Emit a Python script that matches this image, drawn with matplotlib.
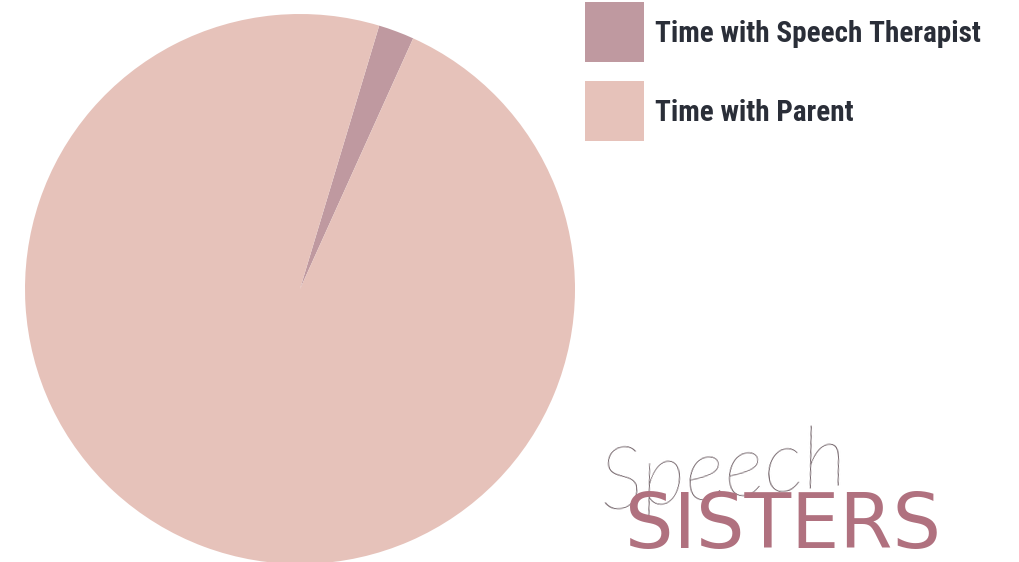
import matplotlib
matplotlib.use("Agg")
import matplotlib.pyplot as plt
from matplotlib.patches import Rectangle

labels = ["Time with Speech Therapist", "Time with Parent"]
values = [2.1, 97.9]
colors = ["#bf99a0", "#e6c2ba"]

W, H = 1020, 562
fig = plt.figure(figsize=(W / 100, H / 100), dpi=100)
fig.patch.set_facecolor("white")
ax = fig.add_axes([0, 0, 1, 1])

ax.pie(values, colors=colors, startangle=65.7, counterclock=True,
       center=(300, H - 289), radius=275,
       wedgeprops=dict(linewidth=0, antialiased=True))
ax.set_xlim(0, W)
ax.set_ylim(0, H)
ax.set_aspect("equal")
ax.axis("off")

# legend
legend_font = dict(family=["Roboto Condensed", "Noto Sans", "DejaVu Sans"],
                   fontweight=900, fontstretch="condensed",
                   fontsize=21, color="#2a2e38")
rows_y = [H - 34, H - 113]
for lab, col, yc in zip(labels, colors, rows_y):
    ax.add_patch(Rectangle((585, yc - 28), 59, 60, facecolor=col,
                           edgecolor="none"))
    ax.text(655, yc, lab, ha="left", va="center", **legend_font)

# logo
ax.text(724, H - 474, "Speech", ha="center", va="center",
        family=["Lato", "DejaVu Sans"], style="italic", fontweight="light",
        fontsize=62, color="#6f6066", rotation=6)
ax.text(783, H - 527, "SISTERS", ha="center", va="center",
        family="DejaVu Sans", fontsize=55, color="#b0717f")

fig.savefig("out.png", dpi=100, facecolor="white")
